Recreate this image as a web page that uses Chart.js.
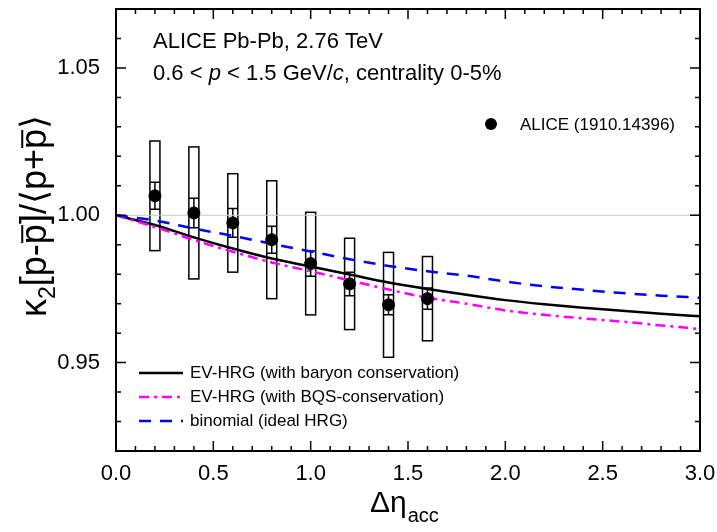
<!DOCTYPE html>
<html><head><meta charset="utf-8">
<script src="https://cdn.jsdelivr.net/npm/chart.js@4/dist/chart.umd.min.js"></script>
<style>html,body{margin:0;padding:0;background:#fff;}#wrap{width:717px;height:532px;}</style>
</head><body><div id="wrap"><canvas id="c" width="717" height="532"></canvas></div>
<script>
// ---- data ----
const etaGrid   = [0.0,0.2,0.4,0.6,0.8,1.0,1.2,1.4,1.6,1.8,2.0,2.2,2.4,2.6,2.8,3.0];
const evBaryon  = [1.0000,0.9967,0.9925,0.9887,0.9853,0.9826,0.9799,0.9772,0.9750,0.9730,0.9712,0.9698,0.9686,0.9676,0.9666,0.9657];
const evBQS     = [1.0000,0.9960,0.9916,0.9876,0.9840,0.9810,0.9779,0.9748,0.9720,0.9700,0.9677,0.9662,0.9650,0.9639,0.9626,0.9614];
const binomial  = [1.0000,0.9982,0.9955,0.9930,0.9903,0.9877,0.9851,0.9828,0.9810,0.9795,0.9775,0.9759,0.9747,0.9736,0.9727,0.9720];
const aliceEta  = [0.2,0.4,0.6,0.8,1.0,1.2,1.4,1.6];
const aliceVal  = [1.0066,1.0008,0.9974,0.9917,0.9836,0.9767,0.9696,0.9717];
const aliceStat = [0.0046,0.0050,0.0049,0.0046,0.0043,0.0040,0.0034,0.0036];
const aliceSys  = [0.0186,0.0224,0.0167,0.0200,0.0174,0.0155,0.0178,0.0143];
const xTicks = [0.0,0.5,1.0,1.5,2.0,2.5,3.0];
const yTicks = [0.95,1.00,1.05];
const xMinor = [0.0,0.1,0.2,0.3,0.4,0.5,0.6,0.7,0.8,0.9,1.0,1.1,1.2,1.3,1.4,1.5,1.6,1.7,1.8,1.9,2.0,2.1,2.2,2.3,2.4,2.5,2.6,2.7,2.8,2.9,3.0];
const yMinor = [0.92,0.93,0.94,0.95,0.96,0.97,0.98,0.99,1.00,1.01,1.02,1.03,1.04,1.05,1.06,1.07];
const curveLabels = ['EV-HRG (with baryon conservation)','EV-HRG (with BQS-conservation)','binomial (ideal HRG)'];
const dataLabel = 'ALICE (1910.14396)';
const infoLine1 = 'ALICE Pb-Pb, 2.76 TeV';

const FONT = '"Liberation Sans", Arial, Helvetica, sans-serif';
const pts = (xs, ys) => xs.map((x, i) => ({x, y: ys[i]}));

const extrasPlugin = {
  id: 'extras',
  beforeDatasetsDraw(chart) {
    const ctx = chart.ctx, xs = chart.scales.x, ys = chart.scales.y;
    ctx.save();
    ctx.strokeStyle = '#000';
    ctx.lineWidth = 1.5;
    const hw = 5;
    aliceEta.forEach((e, i) => {
      const px = xs.getPixelForValue(e);
      const top = ys.getPixelForValue(aliceVal[i] + aliceSys[i]);
      const bot = ys.getPixelForValue(aliceVal[i] - aliceSys[i]);
      ctx.strokeRect(px - hw, top, 2 * hw, bot - top);
      const st = ys.getPixelForValue(aliceVal[i] + aliceStat[i]);
      const sb = ys.getPixelForValue(aliceVal[i] - aliceStat[i]);
      ctx.beginPath();
      ctx.moveTo(px, st); ctx.lineTo(px, sb);
      ctx.moveTo(px - hw, st); ctx.lineTo(px + hw, st);
      ctx.moveTo(px - hw, sb); ctx.lineTo(px + hw, sb);
      ctx.stroke();
    });
    ctx.restore();
  },
  afterDraw(chart) {
    const ctx = chart.ctx, xs = chart.scales.x, ys = chart.scales.y;
    const a = chart.chartArea;
    ctx.save();
    // frame
    ctx.strokeStyle = '#000';
    ctx.lineWidth = 2;
    ctx.strokeRect(a.left, a.top, a.right - a.left, a.bottom - a.top);
    // ticks
    ctx.lineWidth = 1.5;
    ctx.beginPath();
    xMinor.forEach(v => {
      const p = xs.getPixelForValue(v);
      const L = xTicks.some(t => Math.abs(t - v) < 1e-6) ? 10 : 5;
      ctx.moveTo(p, a.bottom); ctx.lineTo(p, a.bottom - L);
      ctx.moveTo(p, a.top); ctx.lineTo(p, a.top + L);
    });
    yMinor.forEach(v => {
      const p = ys.getPixelForValue(v);
      const L = yTicks.some(t => Math.abs(t - v) < 1e-6) ? 10 : 5;
      ctx.moveTo(a.left, p); ctx.lineTo(a.left + L, p);
      ctx.moveTo(a.right, p); ctx.lineTo(a.right - L, p);
    });
    ctx.stroke();

    ctx.fillStyle = '#000';
    ctx.textBaseline = 'alphabetic';
    // info text
    ctx.font = '22px ' + FONT;
    ctx.fillText(infoLine1, 153, 48);
    let x = 153; const by = 80;
    const segs = [['0.6 < ', false], ['p', true], [' < 1.5 GeV/', false], ['c', true], [', centrality 0-5%', false]];
    segs.forEach(([t, it]) => {
      ctx.font = (it ? 'italic ' : '') + '22px ' + FONT;
      ctx.fillText(t, x, by);
      x += ctx.measureText(t).width;
    });

    // ALICE legend
    ctx.beginPath();
    ctx.arc(491, 124, 6, 0, Math.PI * 2);
    ctx.fill();
    ctx.font = '17px ' + FONT;
    ctx.textBaseline = 'middle';
    ctx.fillText(dataLabel, 520, 125);

    // curves legend
    const styles = [
      {c: '#000000', d: []},
      {c: '#ff00ff', d: [10, 5, 3, 5]},
      {c: '#0000ff', d: [12, 9]}
    ];
    styles.forEach((s, i) => {
      const y = 373 + i * 24;
      ctx.strokeStyle = s.c; ctx.lineWidth = 2.5; ctx.setLineDash(s.d);
      ctx.beginPath(); ctx.moveTo(139, y); ctx.lineTo(183, y); ctx.stroke();
      ctx.setLineDash([]);
      ctx.fillText(curveLabels[i], 190, y);
    });

    // x title
    ctx.textBaseline = 'alphabetic';
    ctx.font = '30px ' + FONT;
    const t1 = '\u0394\u03b7';
    ctx.fillText(t1, 370, 512);
    const w1 = ctx.measureText(t1).width;
    ctx.font = '20px ' + FONT;
    ctx.fillText('acc', 370 + w1 + 1, 522);

    // y title (rotated)
    ctx.translate(46, 216);
    ctx.rotate(-Math.PI / 2);
    const fs = 36;
    const parts = [
      ['\u03ba', fs, 0, false], ['2', 23, 9, false], ['[p-', fs, 0, false], ['p', fs, 0, true],
      [']/', fs, 0, false], ['\u27e8', fs, 0, false], ['p+', fs, 0, false], ['p', fs, 0, true], ['\u27e9', fs, 0, false]
    ];
    let total = 0;
    parts.forEach(p => { ctx.font = p[1] + 'px ' + FONT; total += ctx.measureText(p[0]).width; });
    let cx = -total / 2;
    ctx.lineWidth = 2; ctx.strokeStyle = '#000';
    parts.forEach(p => {
      ctx.font = p[1] + 'px ' + FONT;
      ctx.fillText(p[0], cx, p[2]);
      const w = ctx.measureText(p[0]).width;
      if (p[3]) {
        ctx.beginPath(); ctx.moveTo(cx + 1, -fs * 0.66); ctx.lineTo(cx + w - 1, -fs * 0.66); ctx.stroke();
      }
      cx += w;
    });
    ctx.restore();
  }
};

function zeroPad(s) { s.paddingLeft = 0; s.paddingRight = 0; s.paddingTop = 0; s.paddingBottom = 0; }

new Chart(document.getElementById('c'), {
  type: 'scatter',
  data: {
    datasets: [
      {label: dataLabel, data: pts(aliceEta, aliceVal), pointRadius: 6, pointBackgroundColor: '#000', pointBorderColor: '#000', showLine: false, order: 0},
      {label: curveLabels[0], type: 'line', data: pts(etaGrid, evBaryon), borderColor: '#000', borderWidth: 2.5, pointRadius: 0, cubicInterpolationMode: 'monotone', fill: false, order: 3},
      {label: curveLabels[1], type: 'line', data: pts(etaGrid, evBQS), borderColor: '#ff00ff', borderWidth: 2.5, borderDash: [10, 5, 3, 5], pointRadius: 0, cubicInterpolationMode: 'monotone', fill: false, order: 2},
      {label: curveLabels[2], type: 'line', data: pts(etaGrid, binomial), borderColor: '#0000ff', borderWidth: 2.5, borderDash: [12, 9], pointRadius: 0, cubicInterpolationMode: 'monotone', fill: false, order: 1},
      {label: 'ref', type: 'line', data: [{x: 0, y: 1}, {x: 3, y: 1}], borderColor: '#c8c8c8', borderWidth: 1, pointRadius: 0, fill: false, order: 9}
    ]
  },
  options: {
    responsive: false, animation: false, devicePixelRatio: 1,
    layout: {padding: {top: 9, right: 17, left: 0, bottom: 0}},
    plugins: {legend: {display: false}, tooltip: {enabled: false}},
    scales: {
      x: {
        type: 'linear', min: 0, max: 3,
        grid: {display: false, drawTicks: false}, border: {display: false},
        afterBuildTicks: s => { s.ticks = xTicks.map(v => ({value: v})); },
        afterFit: s => { s.height = 81; zeroPad(s); },
        ticks: {font: {family: FONT, size: 22}, color: '#000', padding: 10, maxRotation: 0, callback: v => Number(v).toFixed(1)}
      },
      y: {
        type: 'linear', min: 0.92, max: 1.07,
        grid: {display: false, drawTicks: false}, border: {display: false},
        afterBuildTicks: s => { s.ticks = yTicks.map(v => ({value: v})); },
        afterFit: s => { s.width = 116; zeroPad(s); },
        ticks: {font: {family: FONT, size: 22}, color: '#000', padding: 16, callback: v => Number(v).toFixed(2)}
      }
    }
  },
  plugins: [extrasPlugin]
});
</script>
</body></html>
